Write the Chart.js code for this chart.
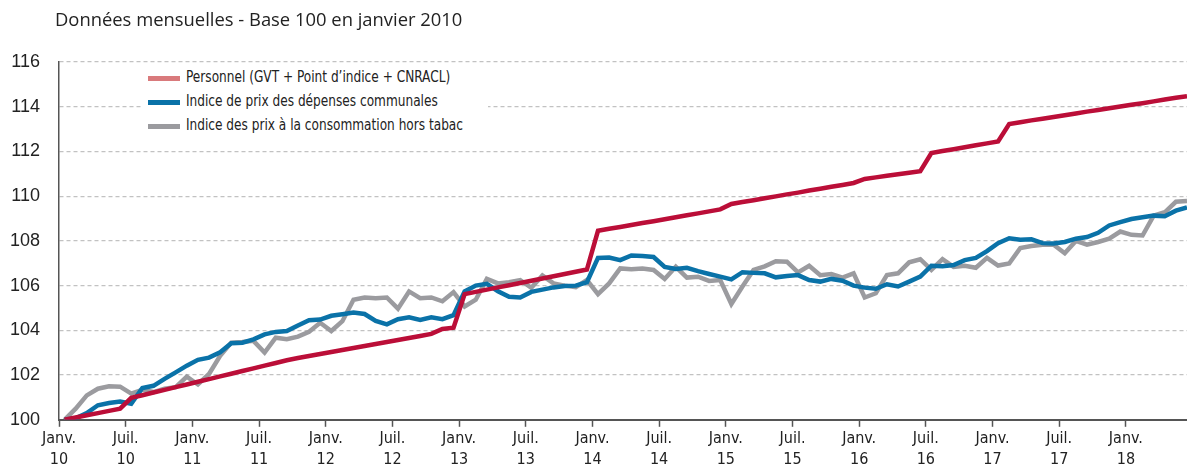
<!DOCTYPE html>
<html lang="fr">
<head>
<meta charset="utf-8">
<script src="https://cdn.jsdelivr.net/npm/chart.js@4.4.1/dist/chart.umd.min.js"></script>
<style>
  html, body { margin: 0; padding: 0; background: #fff; overflow: hidden; }
  #wrap { position: relative; width: 1187px; height: 472px; }
  #title {
    position: absolute; left: 55px; top: 6px;
    font: 18.4px 'Open Sans', 'Liberation Sans', Arial, sans-serif; color: #222;
  }
  #legend {
    position: absolute; left: 143px; top: 66px; width: 345px; height: 74px;
    background: #fff;
  }
  .row { position: absolute; left: 5px; height: 20px; }
  .row span.sw { position: absolute; left: 0; top: 8px; width: 32px; height: 5px; }
  .row span.tx {
    position: absolute; left: 38px; top: 0; white-space: nowrap;
    transform: scaleX(0.9); transform-origin: left center;
    font: 15px 'Liberation Sans Narrow', 'Arial Narrow', 'DejaVu Sans Condensed', sans-serif; color: #222;
  }
</style>
</head>
<body>
<div id="wrap">
  <canvas id="chart" width="1187" height="472"></canvas>
  <div id="title">Données mensuelles - Base 100 en janvier 2010</div>
  <div id="legend"></div>
</div>
<script>
// months Jan 2010 .. Jun 2018 (index 0 = janvier 2010 = 100)
const years = ['10', '11', '12', '13', '14', '15', '16', '17', '18'];
const monthNames = ['janv.', 'févr.', 'mars', 'avr.', 'mai', 'juin', 'juil.', 'août', 'sept.', 'oct.', 'nov.', 'déc.'];
const months = [];
years.forEach(y => monthNames.forEach(m => months.push(m + ' ' + y)));
months.length = 102;

const tickLabels = [
  ['Janv.', '10'], ['Juil.', '10'], ['Janv.', '11'], ['Juil.', '11'],
  ['Janv.', '12'], ['Juil.', '12'], ['Janv.', '13'], ['Juil.', '13'],
  ['Janv.', '14'], ['Juil.', '14'], ['Janv.', '15'], ['Juil.', '15'],
  ['Janv.', '16'], ['Juil.', '16'], ['Janv.', '17'], ['Juil.', '17'],
  ['Janv.', '18']
];

const personnel = [
  100.0, 100.1, 100.2, 100.3, 100.4, 100.5, 100.98, 101.1, 101.22, 101.34, 101.46, 101.58,
  101.7, 101.82, 101.94, 102.06, 102.18, 102.3, 102.42, 102.54, 102.66, 102.76, 102.85, 102.94,
  103.03, 103.12, 103.21, 103.3, 103.39, 103.48, 103.57, 103.66, 103.75, 103.84, 104.06, 104.12,
  105.62, 105.72, 105.82, 105.92, 106.02, 106.12, 106.22, 106.32, 106.42, 106.52, 106.62, 106.72,
  108.45, 108.54, 108.62, 108.71, 108.8, 108.88, 108.97, 109.06, 109.15, 109.23, 109.32, 109.41,
  109.65, 109.74, 109.82, 109.91, 109.99, 110.08, 110.16, 110.25, 110.33, 110.42, 110.5, 110.59,
  110.77, 110.84, 110.91, 110.98, 111.05, 111.12, 111.93, 112.02, 112.1, 112.19, 112.28, 112.36,
  112.45, 113.23, 113.31, 113.39, 113.46, 113.54, 113.62, 113.7, 113.78, 113.85, 113.93, 114.01,
  114.09, 114.16, 114.24, 114.32, 114.4, 114.47
];

const depensesCommunales = [
  100.0, 100.07, 100.3, 100.65, 100.75, 100.82, 100.72, 101.42, 101.52, 101.83, 102.12, 102.42,
  102.68, 102.78, 103.02, 103.42, 103.45, 103.6, 103.82, 103.93, 103.97, 104.22, 104.45, 104.48,
  104.65, 104.72, 104.8, 104.73, 104.42, 104.27, 104.5, 104.58, 104.47, 104.58, 104.5, 104.68,
  105.74, 106.0, 106.08, 105.75, 105.5, 105.47, 105.72, 105.82, 105.92, 105.98, 106.0, 106.15,
  107.24, 107.26, 107.14, 107.35, 107.32, 107.28, 106.84, 106.74, 106.8, 106.65, 106.52, 106.4,
  106.28, 106.6, 106.57, 106.55, 106.37, 106.43, 106.47, 106.25, 106.18, 106.3, 106.22, 106.0,
  105.91, 105.86, 106.06, 105.96, 106.18, 106.4, 106.89, 106.87, 106.92, 107.14, 107.24, 107.54,
  107.9, 108.12, 108.05, 108.07, 107.9, 107.88, 107.95, 108.1, 108.17, 108.36, 108.69, 108.84,
  108.98, 109.06, 109.13, 109.1, 109.35, 109.5
];

const prixConsoHorsTabac = [
  100.0, 100.5, 101.09, 101.39, 101.5, 101.48, 101.17, 101.34, 101.24, 101.39, 101.46, 101.93,
  101.58, 102.05, 102.86, 103.45, 103.48, 103.53, 103.01, 103.67, 103.6, 103.72, 103.94, 104.34,
  103.97, 104.41, 105.37, 105.47, 105.44, 105.47, 104.97, 105.74, 105.44, 105.47, 105.3, 105.71,
  105.07, 105.37, 106.3, 106.1, 106.15, 106.25, 105.9, 106.45, 106.1, 106.0, 105.93, 106.25,
  105.62, 106.1, 106.77, 106.73, 106.77, 106.7, 106.3, 106.84, 106.36, 106.4, 106.21, 106.25,
  105.18, 105.96, 106.7, 106.86, 107.09, 107.07, 106.59, 106.89, 106.47, 106.52, 106.36, 106.55,
  105.47, 105.66, 106.47, 106.55, 107.04, 107.18, 106.7, 107.18, 106.84, 106.89, 106.8, 107.24,
  106.9, 106.99, 107.68, 107.77, 107.83, 107.83, 107.45, 108.0, 107.83, 107.95, 108.1, 108.42,
  108.27, 108.24, 109.13, 109.28, 109.75, 109.78
];

const seriesNames = [
  'Personnel (GVT + Point d\u2019indice + CNRACL)',
  'Indice de prix des dépenses communales',
  'Indice des prix à la consommation hors tabac'
];
const lineColors = ['#bb0e38', '#0a72a8', '#9b9b9f'];
const legendColors = ['#d97a7c', '#0a72a8', '#9b9b9f'];

const narrowFont = "'Liberation Sans Narrow', 'Arial Narrow', 'DejaVu Sans Condensed', sans-serif";

// HTML legend, sitting inside the plot like in the original
const legend = document.getElementById('legend');
seriesNames.forEach((name, i) => {
  const row = document.createElement('div');
  row.className = 'row';
  row.style.top = (2 + i * 24) + 'px';
  row.innerHTML = '<span class="sw" style="background:' + legendColors[i] + '"></span><span class="tx"></span>';
  row.querySelector('.tx').textContent = name;
  legend.appendChild(row);
});

function toPoints(values) {
  return values.map((v, i) => ({ x: i, y: v }));
}

const datasets = [personnel, depensesCommunales, prixConsoHorsTabac].map((vals, i) => ({
  label: seriesNames[i],
  data: toPoints(vals),
  borderColor: lineColors[i],
  borderWidth: 4.5,
  pointRadius: 0,
  tension: 0,
  fill: false
}));

new Chart(document.getElementById('chart'), {
  type: 'line',
  data: { labels: months, datasets: datasets },
  options: {
    responsive: false,
    animation: false,
    layout: { padding: { top: 62, right: 0, bottom: 0, left: 0 } },
    plugins: {
      legend: { display: false },
      tooltip: { enabled: false }
    },
    scales: {
      x: {
        type: 'linear',
        min: -0.5,
        max: months.length - 1,
        afterBuildTicks: (scale) => {
          // tick marks on the month boundaries, every 6 months
          scale.ticks = tickLabels.map((t, k) => ({ value: k * 6 - 0.5 }));
        },
        ticks: {
          autoSkip: false,
          maxRotation: 0,
          padding: 1,
          color: '#222',
          font: { family: narrowFont, size: 16, lineHeight: 1.35 },
          callback: (value, index) => tickLabels[index]
        },
        grid: {
          drawOnChartArea: false,
          drawTicks: true,
          tickLength: 7,
          tickColor: '#555',
          tickWidth: 1.5
        },
        border: { display: true, color: '#555', width: 2 }
      },
      y: {
        min: 100,
        max: 116,
        afterFit: (scale) => { scale.width = 59; },
        ticks: {
          stepSize: 2,
          padding: 19,
          color: '#222',
          font: { family: "'Liberation Sans', Arial, sans-serif", size: 18 }
        },
        grid: {
          drawTicks: false,
          lineWidth: 1.2,
          color: (ctx) => (ctx.tick && ctx.tick.value === 100 ? 'rgba(0,0,0,0)' : '#c2c2c2')
        },
        border: { display: true, color: '#555', width: 1.5, dash: [4, 3] }
      }
    }
  }
});
</script>
</body>
</html>
